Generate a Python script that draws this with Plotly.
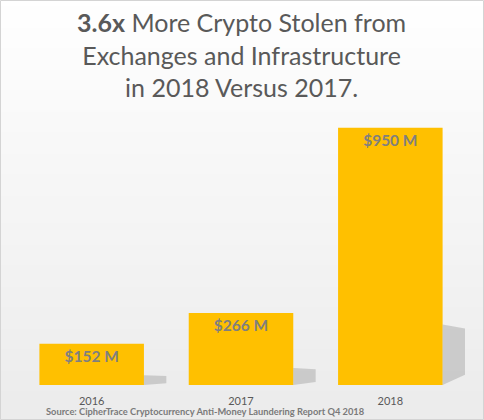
import plotly.graph_objects as go

years = ["2016", "2017", "2018"]
stolen = [152, 266, 950]
labels = ["$152 M", "$266 M", "$950 M"]

W, H = 484, 420
L, R, T, B = 17, 19, 110, 35
BAR_W = 0.7

fig = go.Figure()

# soft drop shadow to the right of each bar
for i, v in enumerate(stolen):
    x0 = i + BAR_W / 2
    x1 = x0 + 0.15
    fig.add_trace(go.Scatter(
        x=[x0, x0, x1, x1, x0],
        y=[0, 0.235 * v, 0.22 * v, 0.04 * v, 0],
        fill="toself", mode="none",
        fillcolor="rgba(150,150,150,0.4)",
        hoverinfo="skip", showlegend=False))

fig.add_trace(go.Bar(
    x=list(range(len(years))), y=stolen, width=BAR_W,
    marker=dict(color="#FFC000", line=dict(width=0)),
    text=labels, textposition="inside", insidetextanchor="end",
    textfont=dict(family="Lato", size=15.5, color="#7f7f7f", weight="bold"),
    showlegend=False))

# background gradient: white at top to light grey at bottom
pw = W - L - R
ph = H - T - B
n = 60
for k in range(n):
    f = k / (n - 1)
    c = int(255 - 19 * f)
    fig.add_shape(type="rect", xref="paper", yref="paper", layer="below",
                  x0=-L / pw, x1=1 + R / pw,
                  y0=1 + T / ph - (k + 1) * (H / ph) / n,
                  y1=1 + T / ph - k * (H / ph) / n + 0.002,
                  line=dict(width=0), fillcolor=f"rgb({c},{c},{c})")
fig.add_shape(type="rect", xref="paper", yref="paper", layer="above",
              x0=-L / pw + 0.5 / pw, x1=1 + R / pw - 0.5 / pw,
              y0=-B / ph + 0.5 / ph, y1=1 + T / ph - 0.5 / ph,
              line=dict(width=1, color="#d4d4d4"))

fig.add_annotation(
    text="<b>3.6x</b> More Crypto Stolen from<br>Exchanges and Infrastructure<br>in 2018 Versus 2017.",
    xref="paper", yref="paper", x=0.5, y=1 + (T - 5) / ph,
    xanchor="center", yanchor="top", showarrow=False,
    font=dict(family="Lato", size=25, color="#595959"))

fig.add_annotation(
    text="<b>Source: CipherTrace Cryptocurrency Anti-Money Laundering Report Q4 2018</b>",
    xref="paper", yref="paper", x=(44 - L) / pw, y=-(411 - 385) / ph,
    xanchor="left", yanchor="middle", showarrow=False,
    font=dict(family="Lato", size=9.3, color="#7a7a7a"))

fig.update_layout(
    width=W, height=H,
    margin=dict(l=L, r=R, t=T, b=B),
    paper_bgcolor="white", plot_bgcolor="rgba(0,0,0,0)",
    xaxis=dict(range=[-0.5, 2.5], tickvals=list(range(len(years))), ticktext=years,
               showgrid=False, zeroline=False, showline=False, ticklabelstandoff=8,
               tickfont=dict(family="Lato", size=11, color="#595959")),
    yaxis=dict(range=[0, 1016], visible=False, showgrid=False),
)

# the page's default body margin would push the figure 8px off the window
fig.write_html("out.html", config={"displayModeBar": False},
               post_script="document.body.style.margin='0';")
